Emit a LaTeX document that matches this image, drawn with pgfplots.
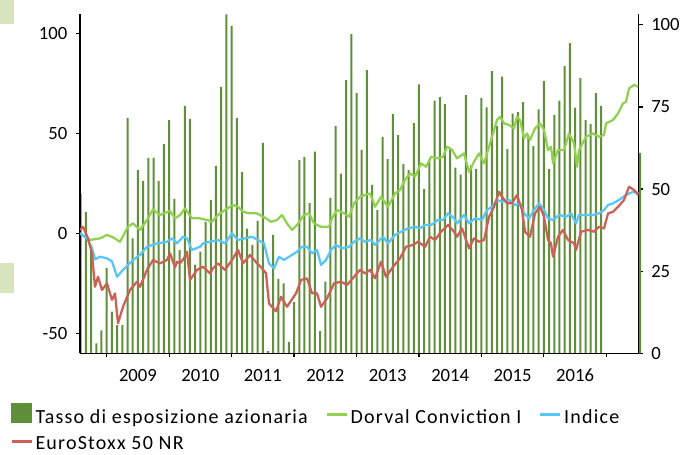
\documentclass[border=0pt]{standalone}
\usepackage{pgfplots}
\pgfplotsset{compat=1.18}
\usepackage{fontspec}
\setmainfont{Carlito}
\definecolor{barcol}{RGB}{96,143,58}
\definecolor{dorval}{RGB}{146,208,80}
\definecolor{indice}{RGB}{88,198,248}
\definecolor{euro}{RGB}{205,96,86}
\definecolor{decor}{RGB}{215,228,189}
\pgfplotsset{common/.style={scale only axis, width=418.9pt, height=254.5pt,
  xmin=-5.13, xmax=102.19,
  axis line style={line width=1.1pt, black},
  tick style={black, line width=0.9pt}, major tick length=3pt, tick align=outside,
  font=\fontsize{14}{17}\selectfont,
  /pgf/number format/assume math mode=true,
  /pgf/number format/1000 sep={}}}
\pgfplotstableread{
m v
-5 48.7
-4 43.1
-3 33
-2 3
-1 7
0 26
1 12.7
2 8.6
3 8.6
4 71.7
5 35
6 55.8
7 52.4
8 59.5
9 59.5
10 52.4
11 63.7
12 71
13 47
14 31.4
15 75.3
16 71.4
17 27
18 31
19 40
20 46.7
21 57.1
22 81.1
23 103.2
24 99.7
25 71.7
26 55.2
27 38
28 33
29 40.4
30 64.1
31 0.7
32 36
33 22.7
34 21.3
35 3.5
36 15.6
37 58.8
38 59.8
39 45.8
40 61.4
41 6.8
42 21.8
43 47.3
44 69.2
45 54.7
46 83.2
47 97.2
48 79.2
49 61.9
50 86.2
51 51.3
52 43.6
53 65.9
54 59.1
55 72.8
56 66.4
57 57.6
58 55.8
59 70.1
60 81.9
61 50
62 58.8
63 76.9
64 78
65 75.9
66 62.6
67 56.5
68 54.4
69 78.6
70 57.2
71 56.1
72 77.8
73 74.9
74 85.9
75 69.2
76 84.2
77 62.2
78 73
79 73.4
80 76.5
81 65.9
82 63.1
83 74.3
84 82.9
85 56.1
86 72.5
87 76.9
88 87.4
89 94.4
90 74.8
91 83.8
92 71
93 69.8
94 79.2
95 75.3
102.48 61
}\bars
\pgfplotstableread{
m v
-5.13 0
-3.21 -3.3
-1.29 -2.5
0.06 -0.8
1.21 -2
2.56 -4.2
4.09 3.3
5.05 5
6.40 1.7
7.74 6.7
8.90 12
10.24 9.2
12.17 11.2
13.13 7.5
14.09 9.2
15.05 12.5
16.39 7.5
17.93 7.5
19.27 6.7
20.23 5.8
21.39 9.2
22.73 11.7
24.27 14.2
25.23 13.3
26.19 10.8
27.53 10
28.88 10
30.61 7.5
31.57 5.8
32.72 6.7
33.68 9.2
34.64 5
35.61 1.7
36.57 4.2
37.91 9.2
38.88 10
39.84 5
41.18 3.3
42.72 3.3
43.29 7.5
44.26 11.7
45.60 10
46.56 8.3
47.52 15
48.67 18.3
49.63 19.2
50.60 20
51.56 13.3
52.71 18.3
54.06 13.3
55.40 20
56.36 21.7
57.32 26.7
58.28 30
59.24 28.3
60.40 35
61.36 33.3
62.32 38.3
63.67 37.5
64.63 38.3
65.39 43.3
66.36 41.7
67.32 37.5
68.66 40
69.62 30.8
70.58 35.8
71.54 40
72.50 35
73.08 40
74.04 48.3
75.00 56.7
75.58 58.3
76.34 55
77.31 54.2
78.27 52.5
78.84 58.3
79.42 56.7
80.19 47.5
80.76 50
81.34 46.7
82.30 52.5
83.26 55
84.03 51.7
84.80 41.7
85.37 43.3
85.76 35
86.72 41.7
87.87 41.7
88.83 50
89.79 45
90.37 33.3
90.75 41.7
92.10 48.3
93.44 50
94.60 48.3
95.56 49.2
95.94 55
97.29 56.7
98.25 60
99.21 65
99.78 65.8
100.36 72.5
101.32 74.2
102.15 73.3
}\dorval
\pgfplotstableread{
m v
-5.13 0
-3.79 -2.5
-2.82 -7.5
-2.25 -13
-1.29 -11.7
0.06 -12.5
1.02 -14
1.98 -21.7
3.13 -18.3
5.05 -13.3
6.40 -10.8
7.74 -6.7
9.67 -5
11.59 -4.2
12.55 -2.5
13.51 -5
14.66 -1.7
15.43 -2.5
16.39 -8.3
17.93 -6.7
18.51 -5
19.85 -4.2
21.39 -3.3
22.73 -5
24.08 0
25.23 -3.3
26.57 -2.5
27.92 -1.7
29.07 -3.3
30.22 -5
31.18 -15
32.15 -17.5
33.11 -11.7
34.07 -13.3
35.03 -11.7
36.57 -9.2
37.53 -6.7
38.49 -6.7
39.45 -10
40.41 -8.3
41.18 -15.8
42.14 -13.3
43.10 -8.3
44.06 -5.8
45.22 -7.5
46.56 -6.7
47.52 -4.2
48.67 -2.5
49.63 -4.2
50.79 -3.3
51.56 -5.8
53.09 -1.7
54.06 -5
55.40 -0.8
56.55 0.8
57.90 2.5
59.24 3.3
60.21 2.5
61.17 4.2
62.32 4.2
63.67 6.7
64.63 6.7
65.59 10
66.74 7.5
67.32 5
68.66 9.2
69.62 5
70.77 7.5
72.12 6.7
73.08 11.7
74.04 13.3
75.00 16.7
75.96 15.8
77.31 16.7
78.46 14.2
79.42 15
80.19 10
81.15 7.5
82.11 11.7
83.07 15
84.03 11.7
84.80 7.5
85.76 6.7
86.91 9.2
88.26 8.3
89.22 10
90.18 5
90.75 9.2
92.10 9.2
93.44 9.2
94.60 10
95.56 11.7
96.33 14.2
97.29 15
98.44 16.7
99.78 19.2
101.13 20.8
102.15 20
}\indice
\pgfplotstableread{
m v
-5.13 1.7
-4.55 3.3
-3.59 -2.5
-2.82 -10
-2.25 -26.7
-1.67 -21.7
-0.90 -28.3
0.06 -25
1.02 -33.3
1.59 -30
2.17 -45
3.13 -36.7
4.48 -28.3
5.82 -24.2
6.40 -26.7
7.74 -18.3
8.90 -13.3
10.24 -15
11.59 -13.3
12.17 -10
13.13 -17
13.51 -14.2
14.09 -15
15.05 -11.7
15.43 -9.2
16.01 -23.3
17.35 -18.3
18.51 -16.7
19.85 -20
20.43 -17.5
21.39 -15
22.73 -18.3
24.08 -13.3
25.23 -8.3
26.19 -15
27.53 -10.8
28.88 -15
29.84 -17.5
30.61 -20
31.18 -35
32.53 -39
33.49 -31.7
34.64 -36.7
36.38 -30
37.34 -23.3
38.49 -22.5
39.45 -30
40.41 -30
41.18 -36.7
42.33 -32.5
43.68 -25
45.02 -24.2
46.18 -25.8
47.52 -21.7
48.67 -18.3
49.63 -20
50.60 -18.3
51.56 -22.5
52.71 -14.2
53.67 -21.7
55.02 -16.7
56.36 -12.5
57.52 -6.7
58.86 -5.8
59.82 -4.2
61.17 -6.7
62.13 -1.7
63.09 -3.3
64.24 0.8
65.59 4.2
66.74 0.8
67.32 -1.7
68.28 2.5
69.62 -7.5
70.58 -2.5
71.54 -4.2
72.50 -3.3
73.46 8.3
74.42 13.3
75.39 20.8
75.96 18.3
76.92 15
77.88 15
78.84 19.2
79.80 11.7
80.38 0.8
81.34 -1.7
82.30 10
83.26 13.3
84.03 8.3
84.80 -3.3
85.37 -5
85.76 -11.7
86.72 -1.7
87.68 1.7
88.64 -3.3
89.79 -5
90.18 -8.3
91.14 0.8
92.48 1.7
93.63 0.8
94.60 3.3
95.56 2.5
96.33 10
97.29 10.8
98.25 13.3
99.40 16.7
100.36 23.3
101.32 21.7
102.15 19.2
}\euro
\begin{document}
\begin{tikzpicture}
\useasboundingbox (-60pt,-75.5pt) rectangle (450pt,265pt);
\fill[decor] (-60pt,265pt) rectangle (-49.5pt,247pt);
\fill[decor] (-60pt,67.7pt) rectangle (-49.5pt,45.2pt);
\begin{axis}[common,
  ymin=0, ymax=103.3,
  axis y line*=right, axis x line=none,
  ytick={0,25,50,75,100},
  yticklabel style={xshift=3pt},
  clip=false]
\addplot[ybar, bar width=1.5pt, fill=barcol, draw=none] table[x=m,y=v] {\bars};
\end{axis}
\begin{axis}[common,
  ymin=-60, ymax=109.7,
  axis y line*=left, axis x line*=bottom,
  ytick={-50,0,50,100},
  yticklabel style={xshift=-3pt},
  xtick={0,12,24,36,48,60,72,84,96},
  x tick label as interval,
  xticklabels={2009,2010,2011,2012,2013,2014,2015,2016},
  xticklabel style={yshift=-5.5pt},
  legend columns=3,
  legend cell align=left,
  legend style={at={(axis description cs:-0.1257,-0.1465)}, anchor=north west,
    draw=none, fill=none, inner sep=0pt, row sep=6.8pt,
    font=\fontsize{15}{18}\selectfont\addfontfeature{LetterSpace=6},
    nodes={inner sep=1pt},
    /tikz/every odd column/.append style={column sep=0.6pt},
    /tikz/every even column/.append style={column sep=12pt}},
  legend image code/.code={\draw[#1, line width=2.5pt] (0pt,2pt) -- (15pt,2pt);}]
\addlegendimage{legend image code/.code={\fill[barcol] (0pt,-4pt) rectangle (15pt,10.3pt);}}
\addlegendentry{Tasso di esposizione azionaria}
\addplot[dorval, line width=1.7pt, line join=round] table[x=m,y=v] {\dorval};
\addlegendentry{Dorval Conviction I}
\addplot[indice, line width=1.7pt, line join=round] table[x=m,y=v] {\indice};
\addlegendentry{Indice}
\addplot[euro, line width=1.7pt, line join=round] table[x=m,y=v] {\euro};
\addlegendentry{EuroStoxx 50 NR}
\end{axis}
\end{tikzpicture}
\end{document}
